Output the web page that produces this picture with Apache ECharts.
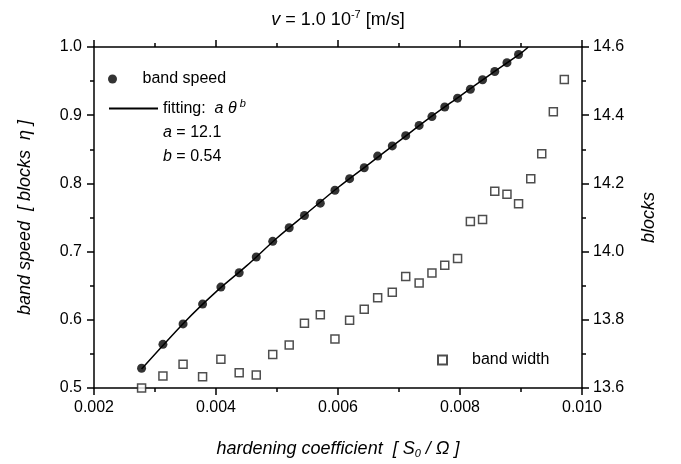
<!DOCTYPE html>
<html><head><meta charset="utf-8">
<script src="https://cdn.jsdelivr.net/npm/echarts@6/dist/echarts.min.js"></script>
<style>html,body{margin:0;padding:0;background:#fff}#c{width:681px;height:464px}</style>
</head><body><div id="c"></div>
<script>
// hardening coefficient values for the band-speed dots
const speedX = [0.00278, 0.00313, 0.00346, 0.00378, 0.00408, 0.00438, 0.00466, 0.00493, 0.00520, 0.00545, 0.00571, 0.00595, 0.00619, 0.00643, 0.00665, 0.00689, 0.00711, 0.00733, 0.00754, 0.00775, 0.00796, 0.00817, 0.00837, 0.00857, 0.00877, 0.00896];
const speedY = [0.529, 0.564, 0.594, 0.623, 0.648, 0.669, 0.692, 0.715, 0.735, 0.753, 0.771, 0.790, 0.807, 0.823, 0.840, 0.855, 0.870, 0.885, 0.898, 0.912, 0.925, 0.938, 0.952, 0.964, 0.977, 0.989];
// band width (right axis)
const widthX = [0.00278, 0.00313, 0.00346, 0.00378, 0.00408, 0.00438, 0.00466, 0.00493, 0.00520, 0.00545, 0.00571, 0.00595, 0.00619, 0.00643, 0.00665, 0.00689, 0.00711, 0.00733, 0.00754, 0.00775, 0.00796, 0.00817, 0.00837, 0.00857, 0.00877, 0.00896, 0.00916, 0.00934, 0.00953, 0.00971];
const widthY = [13.600, 13.635, 13.670, 13.633, 13.684, 13.645, 13.638, 13.698, 13.726, 13.790, 13.815, 13.744, 13.799, 13.831, 13.865, 13.881, 13.927, 13.908, 13.937, 13.960, 13.980, 14.088, 14.094, 14.177, 14.168, 14.140, 14.214, 14.287, 14.410, 14.505];
// fitted curve
const fitX = [0.00278, 0.0035, 0.0040, 0.0045, 0.0050, 0.0055, 0.0060, 0.0065, 0.0070, 0.0075, 0.0080, 0.0085, 0.0090, 0.00912];
const fitY = [0.528, 0.598, 0.641, 0.679, 0.720, 0.757, 0.794, 0.828, 0.862, 0.896, 0.928, 0.960, 0.991, 1.000];
// axis ranges
const xRange = [0.002, 0.010, 0.002];
const leftRange = [0.5, 1.0, 0.1];
const rightRange = [13.6, 14.6, 0.2];

const FONT = '"Liberation Sans", Arial, sans-serif';
const zip = (a, b) => a.map((v, i) => [v, b[i]]);
const lineCol = '#000';

function axisBase(extra) {
  return Object.assign({
    type: 'value',
    axisLine: { show: true, onZero: false, lineStyle: { color: lineCol, width: 1.5 } },
    axisTick: { show: true, inside: false, length: 7, lineStyle: { color: lineCol, width: 1.5 } },
    minorTick: { show: true, splitNumber: 2, length: 4, lineStyle: { color: lineCol, width: 1.5 } },
    splitLine: { show: false },
    minorSplitLine: { show: false }
  }, extra);
}
const labelStyle = { color: '#000', fontSize: 16, fontFamily: FONT };

const chart = echarts.init(document.getElementById('c'), null, { renderer: 'canvas' });
chart.setOption({
  animation: false,
  backgroundColor: '#fff',
  grid: { left: 94, right: 99, top: 47, bottom: 76, containLabel: false },
  xAxis: [
    axisBase({
      min: xRange[0], max: xRange[1], interval: xRange[2], position: 'bottom',
      axisLabel: Object.assign({ margin: 12, formatter: v => v.toFixed(3) }, labelStyle),
      name: '{i|hardening coefficient  [ S}{sub|0}{i| / Ω ]}',
      nameLocation: 'middle', nameGap: 50,
      nameTextStyle: {
        rich: {
          i: { fontStyle: 'italic', fontSize: 18, fontFamily: FONT, color: '#000' },
          sub: { fontStyle: 'italic', fontSize: 11, fontFamily: FONT, color: '#000', padding: [10, 0, 0, 0] }
        }
      }
    }),
    axisBase({
      min: xRange[0], max: xRange[1], interval: xRange[2], position: 'top',
      axisLabel: { show: false }
    })
  ],
  yAxis: [
    axisBase({
      min: leftRange[0], max: leftRange[1], interval: leftRange[2], position: 'left',
      axisLabel: Object.assign({ margin: 12, formatter: v => v.toFixed(1) }, labelStyle),
      name: 'band speed  [ blocks  η ]',
      nameLocation: 'middle', nameGap: 60, nameRotate: 90,
      nameTextStyle: { fontStyle: 'italic', fontSize: 18, fontFamily: FONT, color: '#000' }
    }),
    axisBase({
      min: rightRange[0], max: rightRange[1], interval: rightRange[2], position: 'right',
      axisLabel: Object.assign({ margin: 11, formatter: v => v.toFixed(1) }, labelStyle),
      name: 'blocks',
      nameLocation: 'middle', nameGap: 58, nameRotate: 90,
      nameTextStyle: { fontStyle: 'italic', fontSize: 18, fontFamily: FONT, color: '#000' }
    })
  ],
  legend: [
    {
      data: ['band speed'], left: 108, top: 71, padding: 0, itemWidth: 50, itemHeight: 9,
      icon: 'circle', selectedMode: false, textStyle: labelStyle
    },
    {
      data: ['fitting'], left: 109, top: 98, padding: 0, itemWidth: 49, itemHeight: 2,
      icon: 'rect', selectedMode: false,
      formatter: () => 'fitting:  {i|a θ}{sup| b}',
      textStyle: Object.assign({
        rich: {
          i: { fontStyle: 'italic', fontSize: 16, fontFamily: FONT, color: '#000' },
          sup: { fontStyle: 'italic', fontSize: 11, fontFamily: FONT, color: '#000', padding: [0, 0, 10, 0] }
        }
      }, labelStyle)
    },
    {
      data: ['band width'], left: 437, top: 352, padding: 0, itemWidth: 9, itemHeight: 9,
      icon: 'rect', selectedMode: false,
      textStyle: Object.assign({ padding: [0, 0, 0, 20] }, labelStyle)
    }
  ],
  graphic: [
    {
      type: 'text', x: 338, y: 20,
      style: {
        text: '{i|v} = 1.0 10{sup|-7} [m/s]',
        align: 'center', verticalAlign: 'middle',
        font: '18px ' + FONT, fill: '#000',
        rich: {
          i: { fontStyle: 'italic', fontSize: 18, fontFamily: FONT, fill: '#000' },
          sup: { fontSize: 11, fontFamily: FONT, fill: '#000', padding: [0, 0, 10, 0] }
        }
      }
    },
    {
      type: 'text', x: 163, y: 133,
      style: {
        text: '{i|a} = 12.1', verticalAlign: 'middle', font: '16px ' + FONT, fill: '#000',
        rich: { i: { fontStyle: 'italic', fontSize: 16, fontFamily: FONT, fill: '#000' } }
      }
    },
    {
      type: 'text', x: 163, y: 157,
      style: {
        text: '{i|b} = 0.54', verticalAlign: 'middle', font: '16px ' + FONT, fill: '#000',
        rich: { i: { fontStyle: 'italic', fontSize: 16, fontFamily: FONT, fill: '#000' } }
      }
    }
  ],
  series: [
    {
      name: 'fitting', type: 'line', xAxisIndex: 0, yAxisIndex: 0,
      data: zip(fitX, fitY), showSymbol: false, smooth: 0.3, silent: true,
      itemStyle: { color: '#000' },
      lineStyle: { color: '#000', width: 1.5 }, z: 2
    },
    {
      name: 'band speed', type: 'scatter', xAxisIndex: 0, yAxisIndex: 0,
      data: zip(speedX, speedY), symbol: 'circle', symbolSize: 9,
      itemStyle: { color: '#000' }, z: 3
    },
    {
      name: 'band width', type: 'scatter', xAxisIndex: 0, yAxisIndex: 1,
      data: zip(widthX, widthY), symbol: 'rect', symbolSize: 8,
      itemStyle: { color: '#fff', borderColor: '#222', borderWidth: 1.5 }, z: 3
    }
  ]
});
</script>
</body></html>
